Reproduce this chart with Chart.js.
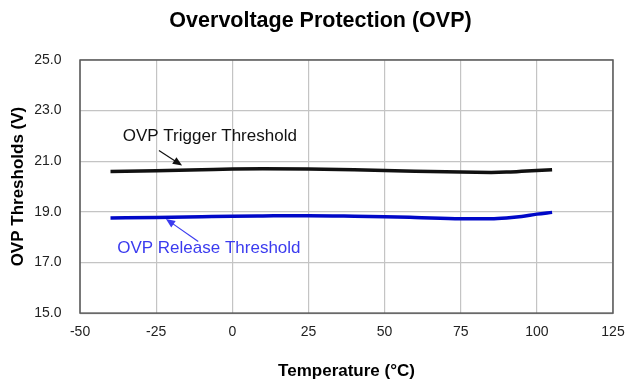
<!DOCTYPE html>
<html>
<head>
<meta charset="utf-8">
<script src="https://cdn.jsdelivr.net/npm/chart.js@4/dist/chart.umd.min.js"></script>
<style>
  html, body { margin: 0; padding: 0; background: #fff; }
  #wrap { width: 641px; height: 385px; }
</style>
</head>
<body>
<div id="wrap"><canvas id="ovpChart" width="641" height="385"></canvas></div>
<script>
// temperature sweep (°C)
var temps = [-40, -25, -10, 0, 10, 25, 40, 50, 60, 75, 85, 90, 95, 100, 105]
// OVP trigger / release thresholds (V)
var trigger = [20.59, 20.62, 20.66, 20.69, 20.70, 20.69, 20.66, 20.63, 20.60, 20.57, 20.56, 20.57, 20.60, 20.63, 20.66]
var release = [18.76, 18.78, 18.81, 18.83, 18.84, 18.85, 18.83, 18.81, 18.78, 18.73, 18.73, 18.76, 18.82, 18.91, 18.98]

var xTicks = [-50, -25, 0, 25, 50, 75, 100, 125]
var yTicks = [15, 17, 19, 21, 23, 25]

// callout labels: text at (x, y), arrow [x1, y1, x2, y2], all in data units
var notes = [
  { text: 'OVP Trigger Threshold', x: -7.4, y: 22.0, color: '#111', arrow: [-24.1, 21.42, -16.5, 20.83] },
  { text: 'OVP Release Threshold', x: -7.7, y: 17.57, color: '#3b3bef', arrow: [-11.2, 17.83, -21.8, 18.72] }
]

function pts(ys) {
  return temps.map(function (t, i) { return { x: t, y: ys[i] } })
}

var calloutPlugin = {
  id: 'callouts',
  afterDatasetsDraw: function (chart) {
    var ctx = chart.ctx
    var xs = chart.scales.x, ys = chart.scales.y
    ctx.save()
    notes.forEach(function (n) {
      ctx.fillStyle = n.color
      ctx.strokeStyle = n.color
      ctx.font = '17px "Liberation Sans", Arial, sans-serif'
      ctx.textAlign = 'center'
      ctx.textBaseline = 'middle'
      ctx.fillText(n.text, xs.getPixelForValue(n.x), ys.getPixelForValue(n.y))

      var x1 = xs.getPixelForValue(n.arrow[0]), y1 = ys.getPixelForValue(n.arrow[1])
      var x2 = xs.getPixelForValue(n.arrow[2]), y2 = ys.getPixelForValue(n.arrow[3])
      var a = Math.atan2(y2 - y1, x2 - x1)
      ctx.lineWidth = 1.2
      ctx.beginPath()
      ctx.moveTo(x1, y1)
      ctx.lineTo(x2 - 6 * Math.cos(a), y2 - 6 * Math.sin(a))
      ctx.stroke()
      ctx.beginPath()
      ctx.moveTo(x2, y2)
      ctx.lineTo(x2 - 10 * Math.cos(a - 0.4), y2 - 10 * Math.sin(a - 0.4))
      ctx.lineTo(x2 - 10 * Math.cos(a + 0.4), y2 - 10 * Math.sin(a + 0.4))
      ctx.closePath()
      ctx.fill()
    })
    // plot frame
    var ca = chart.chartArea
    ctx.strokeStyle = '#5a5a5a'
    ctx.lineWidth = 1.5
    ctx.strokeRect(ca.left, ca.top, ca.right - ca.left, ca.bottom - ca.top)
    ctx.restore()
  }
}

Chart.defaults.font.family = '"Liberation Sans", Arial, sans-serif'
Chart.defaults.color = '#222'

const myChart = new Chart(document.getElementById('ovpChart'), {
  type: 'scatter',
  data: {
    datasets: [{
      label: 'OVP Trigger Threshold',
      data: pts(trigger),
      showLine: true,
      borderColor: '#111',
      borderWidth: 3.5,
      pointRadius: 0,
      cubicInterpolationMode: 'monotone'
    }, {
      label: 'OVP Release Threshold',
      data: pts(release),
      showLine: true,
      borderColor: '#0008c8',
      borderWidth: 3.5,
      pointRadius: 0,
      cubicInterpolationMode: 'monotone'
    }]
  },
  options: {
    responsive: false,
    animation: false,
    layout: { padding: 0 },
    plugins: {
      legend: { display: false },
      tooltip: { enabled: false },
      title: {
        display: true,
        text: 'Overvoltage Protection (OVP)',
        color: '#000',
        font: { size: 21.5, weight: 'bold' },
        padding: { top: 8.5, bottom: 25.7 }
      }
    },
    scales: {
      x: {
        type: 'linear',
        min: -50,
        max: 125,
        afterBuildTicks: function (s) { s.ticks = xTicks.map(function (v) { return { value: v } }) },
        // keep room on the right so the title stays centred on the page
        afterFit: function (s) { s.paddingRight = 28 },
        ticks: { padding: 11, font: { size: 14 }, color: '#222' },
        grid: { color: '#c4c4c4', lineWidth: 1.2, drawTicks: false },
        border: { display: false },
        title: {
          display: true,
          text: 'Temperature (°C)',
          color: '#000',
          font: { size: 17, weight: 'bold' },
          padding: { top: 9.7, bottom: 3 }
        }
      },
      y: {
        min: 15,
        max: 25,
        afterBuildTicks: function (s) { s.ticks = yTicks.map(function (v) { return { value: v } }) },
        ticks: {
          padding: 18.5,
          font: { size: 14 },
          color: '#222',
          callback: function (v) { return v.toFixed(1) }
        },
        grid: { color: '#c4c4c4', lineWidth: 1.2, drawTicks: false },
        border: { display: false },
        title: {
          display: true,
          text: 'OVP Thresholds (V)',
          color: '#000',
          font: { size: 17, weight: 'bold' },
          padding: { top: 7.8, bottom: -12.4 }
        }
      }
    }
  },
  plugins: [calloutPlugin]
});
</script>
</body>
</html>
